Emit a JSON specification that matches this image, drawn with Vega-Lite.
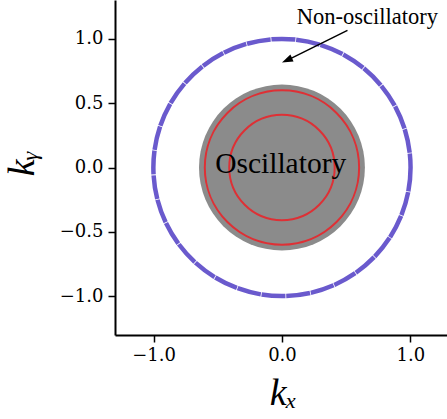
{
  "$schema": "https://vega.github.io/schema/vega-lite/v6.json",
  "width": 332,
  "height": 335,
  "autosize": {"type": "none"},
  "padding": {"left": 115, "top": 0, "right": 0, "bottom": 84},
  "background": "white",
  "config": {
    "view": {"stroke": null},
    "axis": {
      "grid": false,
      "domainColor": "black",
      "domainWidth": 2,
      "tickColor": "black",
      "tickWidth": 1.5,
      "tickSize": 7,
      "labelFont": "DejaVu Serif",
      "labelFontSize": 18,
      "labelColor": "black",
      "titleFont": "Liberation Serif",
      "titleFontStyle": "italic",
      "titleFontWeight": "normal",
      "titleFontSize": 38,
      "titleColor": "black"
    }
  },
  "datasets": {
    "circles": [
      {"name": "region", "kx": 0, "ky": 0, "r": 0.645},
      {"name": "ring", "kx": 0, "ky": 0, "r": 0.6},
      {"name": "ring", "kx": 0, "ky": 0, "r": 0.41},
      {"name": "boundary", "kx": 0, "ky": 0, "r": 1.0}
    ],
    "labels": [
      {"label": "Oscillatory", "kx": -0.01, "ky": -0.04, "kind": "big"},
      {"label": "Non-oscillatory", "kx": 0.665, "ky": 1.11, "kind": "small"}
    ],
    "arrow": [
      {"kx": 0.51, "ky": 1.064, "kx2": 0.039, "ky2": 0.832}
    ],
    "head": [
      {"kx": 0.039, "ky": 0.832}
    ]
  },
  "encoding": {
    "x": {
      "field": "kx",
      "type": "quantitative",
      "scale": {"domain": [-1.3, 1.285], "nice": false, "zero": false},
      "axis": {
        "values": [-1, 0, 1],
        "labelExpr": "replace(format(datum.value, '.1f'), '-', '−')",
        "labelPadding": 4,
        "title": "kₓ",
        "titleX": 168,
        "titleY": 69,
        "titleBaseline": "alphabetic",
        "titleAlign": "center"
      }
    },
    "y": {
      "field": "ky",
      "type": "quantitative",
      "scale": {"domain": [-1.3, 1.3], "nice": false, "zero": false},
      "axis": {
        "values": [-1, -0.5, 0, 0.5, 1],
        "labelExpr": "replace(format(datum.value, '.1f'), '-', '−')",
        "labelPadding": 5,
        "title": "kᵧ",
        "titleX": -82,
        "titleY": 163,
        "titleAngle": -90,
        "titleBaseline": "alphabetic",
        "titleAlign": "center"
      }
    }
  },
  "layer": [
    {
      "data": {"name": "circles"},
      "transform": [{"filter": "datum.name === 'region'"}],
      "mark": {"type": "point", "shape": "circle", "filled": true, "fill": "#8b8b8b", "opacity": 1, "strokeWidth": 0},
      "encoding": {
        "size": {"field": "r", "type": "quantitative", "scale": {"type": "pow", "exponent": 2, "domain": [0, 1], "range": [0, 66150]}, "legend": null}
      }
    },
    {
      "data": {"name": "circles"},
      "transform": [{"filter": "datum.name === 'ring'"}],
      "mark": {"type": "point", "shape": "circle", "filled": false, "stroke": "#de3035", "opacity": 1, "strokeWidth": 2},
      "encoding": {
        "size": {"field": "r", "type": "quantitative", "scale": {"type": "pow", "exponent": 2, "domain": [0, 1], "range": [0, 66150]}, "legend": null}
      }
    },
    {
      "data": {"name": "circles"},
      "transform": [{"filter": "datum.name === 'boundary'"}],
      "mark": {"type": "point", "shape": "circle", "filled": false, "stroke": "#6a5acd", "opacity": 1, "strokeWidth": 4.5, "strokeDash": [24, 0.8]},
      "encoding": {
        "size": {"field": "r", "type": "quantitative", "scale": {"type": "pow", "exponent": 2, "domain": [0, 1], "range": [0, 66150]}, "legend": null}
      }
    },
    {
      "data": {"name": "labels"},
      "transform": [{"filter": "datum.kind === 'big'"}],
      "mark": {"type": "text", "font": "Liberation Serif", "fontSize": 29.5, "color": "black", "align": "center", "baseline": "alphabetic"},
      "encoding": {"text": {"field": "label"}}
    },
    {
      "data": {"name": "arrow"},
      "mark": {"type": "rule", "color": "black", "strokeWidth": 1.5},
      "encoding": {
        "x2": {"field": "kx2"},
        "y2": {"field": "ky2"}
      }
    },
    {
      "data": {"name": "head"},
      "mark": {"type": "point", "shape": "M0,-1L0.7,1L-0.7,1Z", "filled": true, "fill": "black", "opacity": 1, "size": 121, "angle": 246, "strokeWidth": 0}
    },
    {
      "data": {"name": "labels"},
      "transform": [{"filter": "datum.kind === 'small'"}],
      "mark": {"type": "text", "font": "Liberation Serif", "fontSize": 22.5, "color": "black", "align": "center", "baseline": "alphabetic"},
      "encoding": {"text": {"field": "label"}}
    }
  ]
}
